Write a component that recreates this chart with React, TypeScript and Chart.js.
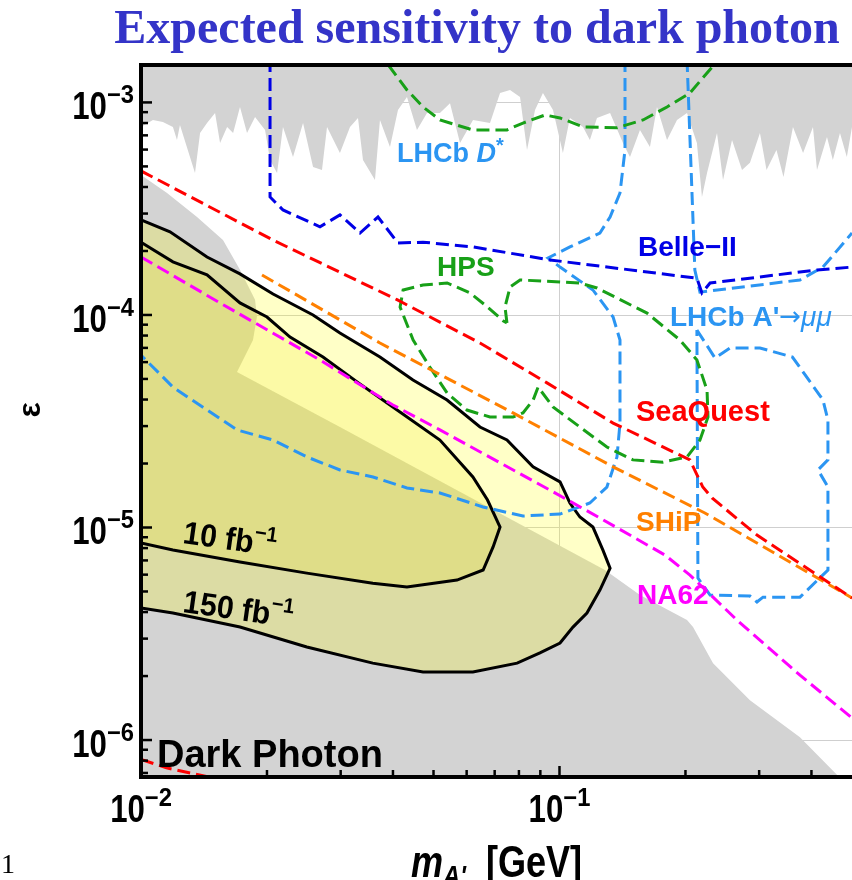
import React, { useEffect, useRef } from "react";
import { Chart, registerables } from "chart.js";

Chart.register(...registerables);

type P = [number, number];

// ---------- axes ----------
const xRange: [number, number] = [0.01, 0.5];
const yRange: [number, number] = [6.7e-7, 1.5e-3];
const xMajorTicks = [0.01, 0.1];
const xTickExponents = ["−2", "−1"];
const xMinorTicks = [0.02, 0.03, 0.04, 0.05, 0.06, 0.07, 0.08, 0.09, 0.2, 0.3, 0.4];
const yMajorTicks = [1e-6, 1e-5, 1e-4, 1e-3];
const yTickExponents = ["−6", "−5", "−4", "−3"];
const yMinorTicks = [
  7e-7, 8e-7, 9e-7,
  2e-6, 3e-6, 4e-6, 5e-6, 6e-6, 7e-6, 8e-6, 9e-6,
  2e-5, 3e-5, 4e-5, 5e-5, 6e-5, 7e-5, 8e-5, 9e-5,
  2e-4, 3e-4, 4e-4, 5e-4, 6e-4, 7e-4, 8e-4, 9e-4,
];
const gridX = [0.1];
const gridY = [1e-6, 1e-5, 1e-4, 1e-3];

// ---------- excluded regions (gray) ----------
const topGrayEdge: P[] = [
  [0.01, 7.67e-4], [0.01068, 8.27e-4], [0.01128, 8.09e-4], [0.01192, 7.67e-4], [0.01219, 6.66e-4],
  [0.01239, 7.83e-4], [0.01346, 4.66e-4], [0.01384, 7.18e-4], [0.01438, 8.0e-4], [0.01503, 8.92e-4],
  [0.01545, 6.44e-4], [0.01606, 7.67e-4], [0.0166, 7.18e-4], [0.01724, 9.52e-4], [0.01792, 7.18e-4],
  [0.01873, 8.54e-4], [0.01979, 7.42e-4], [0.02034, 5.36e-4], [0.02114, 4.66e-4], [0.02184, 7.67e-4],
  [0.02308, 5.54e-4], [0.02439, 8.0e-4], [0.02577, 4.97e-4], [0.02707, 4.81e-4], [0.02783, 7.67e-4],
  [0.02988, 5.78e-4], [0.03158, 7.67e-4], [0.033, 8.45e-4], [0.03392, 5.36e-4], [0.03623, 4.32e-4],
  [0.03724, 8.27e-4], [0.03935, 6.17e-4], [0.04112, 9.21e-4], [0.04321, 1.061e-3], [0.04565, 7.42e-4],
  [0.04824, 8.92e-4], [0.0518, 8.92e-4], [0.05475, 9.9e-4], [0.05785, 6.44e-4], [0.06214, 8.27e-4],
  [0.06823, 8.0e-4], [0.0721, 1.108e-3], [0.07617, 1.145e-3], [0.08048, 1.061e-3], [0.08364, 5.97e-4],
  [0.0874, 9.21e-4], [0.0913, 1.108e-3], [0.0965, 9.21e-4], [0.1019, 5.78e-4], [0.1059, 8.45e-4],
  [0.1138, 7.67e-4], [0.1182, 6.66e-4], [0.1229, 8.45e-4], [0.1321, 8.92e-4], [0.1418, 6.44e-4],
  [0.1474, 5.54e-4], [0.1557, 7.42e-4], [0.1645, 6.17e-4], [0.171, 9.52e-4], [0.1807, 6.66e-4],
  [0.1909, 8.27e-4], [0.2017, 8.92e-4], [0.213, 6.44e-4], [0.219, 3.59e-4], [0.2252, 4.66e-4],
  [0.2379, 7.18e-4], [0.2459, 4.32e-4], [0.2584, 6.66e-4], [0.273, 4.81e-4], [0.2852, 5.2e-4],
  [0.3013, 7.18e-4], [0.3124, 4.81e-4], [0.33, 5.97e-4], [0.343, 4.46e-4], [0.3613, 7.67e-4],
  [0.382, 5.78e-4], [0.4034, 7.67e-4], [0.4124, 4.81e-4], [0.4357, 6.88e-4], [0.45, 5.36e-4],
  [0.468, 7.18e-4], [0.486, 5.54e-4], [0.5, 7.67e-4],
];

const lowerGrayShape: P[] = [
  [0.01, 4.56e-4], [0.01154, 3.75e-4], [0.01361, 2.89e-4], [0.0157, 2.25e-4], [0.01724, 1.63e-4],
  [0.01873, 1.18e-4], [0.01893, 9.84e-5], [0.01852, 7.62e-5], [0.01696, 5.39e-5], [0.02988, 2.97e-5],
  [0.0518, 1.655e-5], [0.1284, 6.31e-6], [0.1557, 4.81e-6], [0.2017, 3.67e-6], [0.2085, 3.4e-6],
  [0.2328, 2.3e-6], [0.2852, 1.54e-6], [0.3755, 1.03e-6], [0.473, 6.5e-7], [0.01, 6.5e-7],
];

// ---------- Belle-II projected reach (yellow) ----------
const reach150fb: P[] = [
  [0.01, 2.8e-4], [0.01173, 2.46e-4], [0.01438, 1.874e-4], [0.01724, 1.56e-4], [0.02068, 1.255e-4],
  [0.02577, 1.0e-4], [0.02988, 8.22e-5], [0.03724, 6.34e-5], [0.04466, 4.94e-5], [0.05387, 3.98e-5],
  [0.06457, 2.97e-5], [0.0749, 2.58e-5], [0.08645, 1.93e-5], [0.1003, 1.64e-5], [0.1059, 1.304e-5],
  [0.1119, 1.12e-5], [0.1202, 1.005e-5], [0.127, 7.83e-6], [0.1321, 6.44e-6], [0.1249, 5.08e-6],
  [0.1163, 3.96e-6], [0.1077, 3.4e-6], [0.1003, 2.86e-6], [0.0898, 2.57e-6], [0.0792, 2.3e-6],
  [0.0621, 2.09e-6], [0.0472, 2.09e-6], [0.0358, 2.3e-6], [0.0249, 2.74e-6], [0.01724, 3.4e-6],
  [0.01192, 3.96e-6], [0.01, 4.18e-6],
];

const reach10fb: P[] = [
  [0.01, 2.2e-4], [0.01192, 1.777e-4], [0.01438, 1.543e-4], [0.01724, 1.139e-4], [0.02, 9.78e-5],
  [0.02271, 7.87e-5], [0.02722, 6.34e-5], [0.03309, 4.79e-5], [0.03935, 3.77e-5], [0.0518, 2.58e-5],
  [0.0621, 1.728e-5], [0.0673, 1.347e-5], [0.0721, 1.005e-5], [0.0694, 8.1e-6], [0.0657, 6.31e-6],
  [0.0569, 5.66e-6], [0.0432, 5.25e-6], [0.0358, 5.47e-6], [0.0249, 6.1e-6], [0.01724, 6.88e-6],
  [0.01192, 7.83e-6], [0.01, 8.45e-6],
];

// ---------- other experiments (dashed) ----------
const seaQuest: P[] = [
  [0.01, 4.76e-4], [0.02068, 2.25e-4], [0.0409, 1.18e-4], [0.06457, 7.38e-5], [0.09335, 4.79e-5],
  [0.1343, 3.1e-5], [0.205, 2.08e-5], [0.22, 1.55e-5], [0.2315, 1.377e-5], [0.2964, 9.21e-6],
  [0.5, 4.66e-6],
];
const seaQuestLow: P[] = [[0.01, 8.1e-7], [0.0115, 7.4e-7], [0.0145, 6.7e-7], [0.017, 6.0e-7]];

const ship: P[] = [
  [0.01946, 1.543e-4], [0.03724, 7.38e-5], [0.07744, 3.46e-5], [0.1343, 1.93e-5], [0.2225, 1.17e-5],
  [0.2852, 8.83e-6], [0.5, 4.66e-6],
];

const na62: P[] = [
  [0.01, 1.874e-4], [0.01545, 1.139e-4], [0.02677, 6.14e-5], [0.04, 3.77e-5], [0.0518, 2.88e-5],
  [0.0949, 1.5e-5], [0.1249, 1.108e-5], [0.1787, 7.42e-6], [0.205, 5.97e-6], [0.2655, 3.67e-6],
  [0.3755, 2.02e-6], [0.5, 1.27e-6],
];

const belle2: P[] = [
  [0.02034, 1.6e-3], [0.02034, 3.59e-4], [0.02184, 3.12e-4], [0.02677, 2.6e-4], [0.02988, 2.955e-4],
  [0.03337, 2.43e-4], [0.03684, 2.89e-4], [0.04112, 2.18e-4], [0.04719, 2.2e-4], [0.06214, 2.09e-4],
  [0.0949, 1.815e-4], [0.213, 1.49e-4], [0.219, 1.27e-4], [0.229, 1.414e-4], [0.4124, 1.628e-4],
  [0.5, 1.68e-4],
];

const lhcbDstar: P[] = [
  [0.1434, 1.6e-3], [0.1434, 5.97e-4], [0.1395, 3.75e-4], [0.1321, 2.89e-4], [0.1249, 2.43e-4],
  [0.1059, 2.09e-4], [0.0939, 1.855e-4], [0.1003, 1.68e-4], [0.1202, 1.311e-4], [0.1343, 9.78e-5],
  [0.1395, 7.62e-5], [0.1395, 3.1e-5], [0.1372, 2.147e-5], [0.1298, 1.55e-5], [0.1182, 1.304e-5],
  [0.1003, 1.157e-5], [0.0818, 1.133e-5], [0.06565, 1.249e-5], [0.0518, 1.453e-5], [0.04321, 1.535e-5],
  [0.03584, 1.728e-5], [0.02988, 1.865e-5], [0.02493, 2.147e-5], [0.02068, 2.58e-5], [0.01696, 2.88e-5],
  [0.01438, 3.57e-5], [0.01192, 4.58e-5], [0.01, 6.47e-5],
];

const lhcbMuMuUpper: P[] = [
  [0.2017, 1.6e-3], [0.2106, 1.628e-4], [0.2166, 1.28e-4], [0.3755, 1.461e-4], [0.4262, 1.68e-4],
  [0.5, 2.43e-4],
];
const lhcbMuMuLower: P[] = [
  [0.213, 8.5e-5], [0.2353, 6.27e-5], [0.2556, 6.99e-5], [0.3013, 6.99e-5], [0.3603, 6.34e-5],
  [0.4262, 3.98e-5], [0.438, 3.2e-5], [0.438, 2.08e-5], [0.4147, 1.865e-5], [0.438, 1.55e-5],
  [0.438, 6.31e-6], [0.3755, 4.7e-6], [0.3064, 4.7e-6], [0.2964, 4.46e-6], [0.2852, 4.76e-6],
  [0.229, 4.81e-6], [0.2142, 5.78e-6], [0.213, 8.5e-5],
];

const hpsUpper: P[] = [
  [0.0366, 1.77e-3], [0.039, 1.5e-3], [0.0432, 1.145e-3], [0.0472, 9.52e-4], [0.0518, 8.27e-4],
  [0.0621, 7.42e-4], [0.0749, 7.42e-4], [0.0818, 8.0e-4], [0.0924, 8.73e-4], [0.1003, 8.45e-4],
  [0.1138, 7.67e-4], [0.1372, 7.6e-4], [0.1584, 8.27e-4], [0.1807, 9.52e-4], [0.205, 1.108e-3],
  [0.2328, 1.485e-3], [0.2486, 1.77e-3],
];
const hpsLower: P[] = [
  [0.0749, 9.17e-5], [0.0741, 1.09e-4], [0.0762, 1.354e-4], [0.0805, 1.461e-4], [0.1119, 1.414e-4],
  [0.1229, 1.339e-4], [0.1619, 1.02e-4], [0.1941, 7.62e-5], [0.213, 6.14e-5], [0.2252, 4.43e-5],
  [0.2264, 3.31e-5], [0.2166, 2.58e-5], [0.2017, 2.147e-5], [0.1767, 2.03e-5], [0.1498, 2.08e-5],
  [0.1298, 2.39e-5], [0.1119, 2.97e-5], [0.0965, 3.69e-5], [0.0889, 4.58e-5], [0.0865, 3.98e-5],
  [0.0818, 3.46e-5], [0.0774, 3.31e-5], [0.0682, 3.31e-5], [0.0601, 3.57e-5], [0.0539, 4.29e-5],
  [0.049, 5.69e-5], [0.0447, 7.62e-5], [0.0416, 1.09e-4], [0.0423, 1.311e-4], [0.0472, 1.384e-4],
  [0.0539, 1.414e-4], [0.0611, 1.27e-4], [0.0673, 1.09e-4], [0.0733, 9.4e-5], [0.0749, 9.17e-5],
];

// ---------- styles ----------
const GRAY = "#d3d3d3";
const RED = "#ff0000";
const ORANGE = "#ff8000";
const MAGENTA = "#ff00ff";
const DARKBLUE = "#0000e6";
const LIGHTBLUE = "#2b95f2";
const GREEN = "#18a018";
const SANS = '"Liberation Sans", Arial, sans-serif';
const SERIF = '"Liberation Serif", "Times New Roman", serif';

type Run = { t: string; font: string; dy?: number; sx?: number };

function runsWidth(ctx: CanvasRenderingContext2D, runs: Run[]) {
  let w = 0;
  for (const r of runs) {
    ctx.font = r.font;
    w += ctx.measureText(r.t).width * (r.sx ?? 1);
  }
  return w;
}

function drawRuns(
  ctx: CanvasRenderingContext2D,
  runs: Run[],
  x: number,
  y: number,
  color: string,
  align: "left" | "center" | "right" = "left"
) {
  const w = runsWidth(ctx, runs);
  let cx = align === "left" ? x : align === "center" ? x - w / 2 : x - w;
  ctx.fillStyle = color;
  ctx.textBaseline = "alphabetic";
  ctx.textAlign = "left";
  for (const r of runs) {
    ctx.font = r.font;
    const sx = r.sx ?? 1;
    const wr = ctx.measureText(r.t).width * sx;
    ctx.save();
    ctx.translate(cx, y + (r.dy ?? 0));
    ctx.scale(sx, 1);
    ctx.fillText(r.t, 0, 0);
    ctx.restore();
    cx += wr;
  }
}

const decor = {
  id: "decor",
  beforeDatasetsDraw(chart: any) {
    const { ctx, chartArea: a, scales } = chart;
    const xs = scales.x;
    const ys = scales.y;
    ctx.save();
    ctx.strokeStyle = "#cfcfcf";
    ctx.lineWidth = 1;
    for (const v of gridX) {
      const px = Math.round(xs.getPixelForValue(v)) + 0.5;
      ctx.beginPath();
      ctx.moveTo(px, a.top);
      ctx.lineTo(px, a.bottom);
      ctx.stroke();
    }
    for (const v of gridY) {
      const py = Math.round(ys.getPixelForValue(v)) + 0.5;
      ctx.beginPath();
      ctx.moveTo(a.left, py);
      ctx.lineTo(a.right, py);
      ctx.stroke();
    }
    ctx.restore();
  },
  afterDraw(chart: any) {
    const { ctx, chartArea: a, scales } = chart;
    const xs = scales.x;
    const ys = scales.y;
    ctx.save();

    // in-plot labels
    const lb = (s: number) => `bold ${s}px ${SANS}`;
    drawRuns(ctx, [
      { t: "LHCb ", font: lb(27) },
      { t: "D", font: `italic bold 27px ${SANS}` },
      { t: "*", font: lb(20), dy: -10 },
    ], 397, 162, LIGHTBLUE);
    drawRuns(ctx, [{ t: "Belle−II", font: lb(28) }], 638, 256, DARKBLUE);
    drawRuns(ctx, [{ t: "HPS", font: lb(28) }], 437, 276, GREEN);
    drawRuns(ctx, [
      { t: "LHCb A'", font: lb(28) },
      { t: "→", font: `26px "DejaVu Sans", ${SANS}`, dy: -1 },
      { t: "μμ", font: `italic 28px ${SANS}` },
    ], 670, 326, LIGHTBLUE);
    drawRuns(ctx, [{ t: "SeaQuest", font: lb(29) }], 636, 421, RED);
    drawRuns(ctx, [{ t: "SHiP", font: lb(28) }], 636, 531, ORANGE);
    drawRuns(ctx, [{ t: "NA62", font: lb(28) }], 637, 604, MAGENTA);
    drawRuns(ctx, [{ t: "Dark Photon", font: lb(38) }], 157, 767, "#000");

    const lumi = (label: string, x: number, y: number) => {
      ctx.save();
      ctx.translate(x, y);
      ctx.rotate((8 * Math.PI) / 180);
      drawRuns(ctx, [
        { t: label + " fb", font: lb(32), sx: 0.95 },
        { t: "−1", font: lb(21), dy: -14, sx: 0.95 },
      ], 0, 0, "#000");
      ctx.restore();
    };
    lumi("10", 182, 543);
    lumi("150", 182, 612);

    // frame
    ctx.strokeStyle = "#000";
    ctx.lineWidth = 4;
    ctx.beginPath();
    ctx.moveTo(a.right + 2, a.top);
    ctx.lineTo(a.left, a.top);
    ctx.lineTo(a.left, a.bottom);
    ctx.lineTo(a.right + 2, a.bottom);
    ctx.stroke();

    // ticks (inward)
    ctx.lineWidth = 2.5;
    const xt = (v: number, len: number) => {
      const px = xs.getPixelForValue(v);
      ctx.beginPath();
      ctx.moveTo(px, a.bottom);
      ctx.lineTo(px, a.bottom - len);
      ctx.stroke();
    };
    const yt = (v: number, len: number) => {
      const py = ys.getPixelForValue(v);
      ctx.beginPath();
      ctx.moveTo(a.left, py);
      ctx.lineTo(a.left + len, py);
      ctx.stroke();
    };
    xMajorTicks.forEach((v) => xt(v, 11));
    xMinorTicks.forEach((v) => xt(v, 7));
    yMajorTicks.forEach((v) => yt(v, 11));
    yMinorTicks.forEach((v) => yt(v, 7));

    // tick labels
    const big = `bold 38px ${SANS}`;
    const sup = `bold 25px ${SANS}`;
    yMajorTicks.forEach((v, i) => {
      const py = ys.getPixelForValue(v);
      drawRuns(ctx, [
        { t: "10", font: big, sx: 0.82 },
        { t: yTickExponents[i], font: sup, dy: -16, sx: 0.95 },
      ], 134, py + 17, "#000", "right");
    });
    xMajorTicks.forEach((v, i) => {
      const px = xs.getPixelForValue(v);
      drawRuns(ctx, [
        { t: "10", font: big, sx: 0.82 },
        { t: xTickExponents[i], font: sup, dy: -16, sx: 0.95 },
      ], px, 822, "#000", "center");
    });

    // axis titles
    drawRuns(ctx, [
      { t: "m", font: `italic bold 44px ${SANS}`, sx: 0.82 },
      { t: "A'", font: `italic bold 28px ${SANS}`, dy: 8, sx: 0.85 },
      { t: "  [GeV]", font: `bold 44px ${SANS}`, sx: 0.82 },
    ], (a.left + a.right) / 2, 877, "#000", "center");

    ctx.save();
    ctx.translate(40, 410);
    ctx.rotate(-Math.PI / 2);
    drawRuns(ctx, [{ t: "ε", font: `bold 32px ${SANS}` }], 0, 0, "#000", "center");
    ctx.restore();

    // page artefacts / title
    drawRuns(ctx, [{ t: "1", font: `28px ${SERIF}` }], 1, 873, "#000");
    drawRuns(ctx, [{ t: "Expected sensitivity to dark photon", font: `bold 48px ${SERIF}` }], 477, 43, "#3434c8", "center");

    ctx.restore();
  },
};

const pts = (d: P[]) => d.map(([x, y]) => ({ x, y }));

function dashed(data: P[], color: string, order: number) {
  return {
    data: pts(data),
    showLine: true,
    pointRadius: 0,
    pointHoverRadius: 0,
    tension: 0,
    fill: false,
    borderColor: color,
    borderWidth: 3,
    borderDash: [13, 6],
    order,
  };
}

export default function App() {
  const ref = useRef<HTMLCanvasElement | null>(null);

  useEffect(() => {
    if (!ref.current) return;
    const chart = new Chart(ref.current, {
      type: "scatter",
      data: {
        datasets: [
          {
            data: pts(topGrayEdge), showLine: true, pointRadius: 0, tension: 0,
            fill: "end", backgroundColor: GRAY, borderWidth: 0, borderColor: "rgba(0,0,0,0)", order: 30,
          },
          {
            data: pts(lowerGrayShape), showLine: true, pointRadius: 0, tension: 0,
            fill: "shape", backgroundColor: GRAY, borderWidth: 0, borderColor: "rgba(0,0,0,0)", order: 29,
          },
          {
            data: pts(reach150fb), showLine: true, pointRadius: 0, tension: 0,
            fill: "shape", backgroundColor: "rgba(255,255,0,0.22)", borderColor: "#000", borderWidth: 3, order: 20,
          },
          {
            data: pts(reach10fb), showLine: true, pointRadius: 0, tension: 0,
            fill: "shape", backgroundColor: "rgba(235,225,0,0.17)", borderColor: "#000", borderWidth: 3, order: 19,
          },
          dashed(lhcbDstar, LIGHTBLUE, 9),
          dashed(lhcbMuMuUpper, LIGHTBLUE, 9),
          dashed(lhcbMuMuLower, LIGHTBLUE, 9),
          dashed(hpsUpper, GREEN, 8),
          dashed(hpsLower, GREEN, 8),
          dashed(ship, ORANGE, 7),
          dashed(na62, MAGENTA, 6),
          dashed(seaQuest, RED, 5),
          dashed(seaQuestLow, RED, 5),
          dashed(belle2, DARKBLUE, 4),
        ] as any,
      },
      options: {
        responsive: false,
        animation: false,
        devicePixelRatio: 1,
        events: [],
        layout: { padding: { left: 141, right: 0, top: 65, bottom: 103 } },
        plugins: {
          legend: { display: false },
          tooltip: { enabled: false },
          title: { display: false },
        },
        scales: {
          x: { type: "logarithmic", min: xRange[0], max: xRange[1], display: false },
          y: { type: "logarithmic", min: yRange[0], max: yRange[1], display: false },
        },
      } as any,
      plugins: [decor],
    });
    return () => chart.destroy();
  }, []);

  return (
    <div style={{ position: "absolute", left: 0, top: 0, width: 852, height: 880, background: "#fff" }}>
      <canvas ref={ref} width={852} height={880} style={{ display: "block", width: 852, height: 880 }} />
    </div>
  );
}
